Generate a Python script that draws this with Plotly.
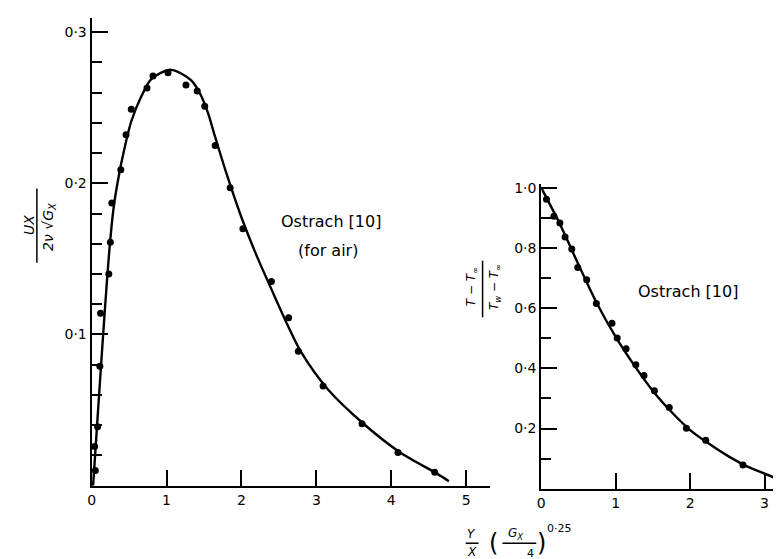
import plotly.graph_objects as go

# ---------------- data ----------------
# Left panel: velocity profile
vel_pts_x = [0.05, 0.04, 0.08, 0.11, 0.12, 0.23, 0.25, 0.27, 0.39, 0.46, 0.53, 0.74, 0.82,
             1.02, 1.26, 1.41, 1.51, 1.65, 1.85, 2.02, 2.40, 2.63, 2.76, 3.09, 3.61, 4.09, 4.58]
vel_pts_y = [0.010, 0.026, 0.039, 0.079, 0.114, 0.140, 0.161, 0.187, 0.209, 0.232, 0.249, 0.263, 0.271,
             0.273, 0.265, 0.261, 0.251, 0.225, 0.197, 0.170, 0.135, 0.111, 0.089, 0.066, 0.041, 0.022, 0.009]
vel_curve_x = [0.02, 0.06, 0.10, 0.15, 0.20, 0.25, 0.30, 0.36, 0.43, 0.53, 0.66, 0.80, 1.06, 1.33, 1.45,
               1.55, 1.65, 1.80, 2.00, 2.20, 2.40, 2.60, 2.79, 3.15, 3.63, 4.12, 4.61, 4.77]
vel_curve_y = [0.000, 0.030, 0.060, 0.097, 0.132, 0.163, 0.186, 0.204, 0.221, 0.241, 0.257, 0.269, 0.275, 0.268, 0.259,
               0.247, 0.2305, 0.2065, 0.1775, 0.1525, 0.130, 0.108, 0.089, 0.064, 0.041, 0.022, 0.008, 0.003]

# Right panel: temperature profile
tmp_pts_x = [0.07, 0.17, 0.25, 0.32, 0.41, 0.49, 0.61, 0.74, 0.95, 1.02, 1.14, 1.27, 1.38, 1.52,
             1.72, 1.95, 2.21, 2.71]
tmp_pts_y = [0.962, 0.906, 0.883, 0.837, 0.797, 0.735, 0.695, 0.616, 0.550, 0.501, 0.465, 0.412, 0.376,
             0.326, 0.270, 0.201, 0.161, 0.079]
tmp_curve_x = [0.0, 0.25, 0.5, 0.75, 1.0, 1.25, 1.5, 1.75, 2.0, 2.25, 2.5, 2.75, 3.0, 3.14]
tmp_curve_y = [1.0, 0.88, 0.745, 0.615, 0.505, 0.41, 0.325, 0.255, 0.195, 0.15, 0.11, 0.076, 0.05, 0.036]

# tick labels
left_x_ticks = [0, 1, 2, 3, 4, 5]
left_x_text = ["0", "1", "2", "3", "4", "5"]
left_y_ticks = [0.1, 0.2, 0.3]
left_y_text = ["0·1", "0·2", "0·3"]
right_x_ticks = [0, 1, 2, 3]
right_x_text = ["0", "1", "2", "3"]
right_y_ticks = [0.2, 0.4, 0.6, 0.8, 1.0]
right_y_text = ["0·2", "0·4", "0·6", "0·8", "1·0"]

# ---------------- figure ----------------
W, H = 781, 559
FONT = "DejaVu Sans"


def px(x):
    return x / W


def py(y):
    return 1 - y / H


fig = go.Figure()

fig.add_trace(go.Scatter(x=vel_curve_x, y=vel_curve_y, mode="lines",
                         line=dict(color="black", width=2.4, shape="spline", smoothing=0.8),
                         xaxis="x", yaxis="y", showlegend=False, hoverinfo="skip"))
fig.add_trace(go.Scatter(x=vel_pts_x, y=vel_pts_y, mode="markers", marker=dict(color="black", size=7),
                         xaxis="x", yaxis="y", showlegend=False))
fig.add_trace(go.Scatter(x=tmp_curve_x, y=tmp_curve_y, mode="lines",
                         line=dict(color="black", width=2.4, shape="spline", smoothing=0.8),
                         xaxis="x2", yaxis="y2", showlegend=False, hoverinfo="skip"))
fig.add_trace(go.Scatter(x=tmp_pts_x, y=tmp_pts_y, mode="markers", marker=dict(color="black", size=7),
                         xaxis="x2", yaxis="y2", showlegend=False))

axis_common = dict(showline=True, linecolor="black", linewidth=2, showgrid=False, zeroline=False,
                   ticks="inside", tickcolor="black", tickwidth=1.5, ticklen=16,
                   tickfont=dict(family=FONT, size=14, color="black"), tickmode="array")

fig.update_layout(
    width=W, height=H,
    margin=dict(l=0, r=0, t=0, b=0),
    paper_bgcolor="white", plot_bgcolor="rgba(0,0,0,0)",
    xaxis=dict(domain=[px(80), px(480)], range=[0, 5.312], anchor="y",
               tickvals=left_x_ticks, ticktext=left_x_text, **axis_common),
    yaxis=dict(domain=[py(477), py(5)], range=[0, 0.3093], anchor="x",
               tickvals=left_y_ticks, ticktext=left_y_text,
               minor=dict(tickmode="linear", tick0=0, dtick=0.02, ticks="inside", ticklen=10,
                          tickcolor="black", tickwidth=1.5),
               **axis_common),
    xaxis2=dict(domain=[px(532), px(771)], range=[0, 3.195], anchor="y2",
                tickvals=right_x_ticks, ticktext=right_x_text, **axis_common),
    yaxis2=dict(domain=[py(480), py(173)], range=[0, 1.0115], anchor="x2",
                tickvals=right_y_ticks, ticktext=right_y_text,
                minor=dict(tickmode="linear", tick0=0, dtick=0.1, ticks="inside", ticklen=10,
                           tickcolor="black", tickwidth=1.5),
                **axis_common),
)


def ann(text, x, y, size=14, angle=0, italic=False):
    t = f"<i>{text}</i>" if italic else text
    fig.add_annotation(text=t, x=px(x), y=py(y), xref="paper", yref="paper", showarrow=False,
                       textangle=angle, xanchor="center", yanchor="middle",
                       font=dict(family=FONT, size=size, color="black"))


def bar(x0, y0, x1, y1):
    fig.add_shape(type="line", xref="paper", yref="paper", x0=px(x0), y0=py(y0), x1=px(x1), y1=py(y1),
                  line=dict(color="black", width=1.5))


# Curve labels
ann("Ostrach [10]", 321, 210, size=16)
ann("(for air)", 318, 240, size=16)
ann("Ostrach [10]", 679, 281, size=16)

# Left y-axis label: UX / (2ν √G_X)
ann("UX", 17, 214, size=14, angle=-90, italic=True)
bar(25, 177, 25, 252)
ann("2ν √G<sub>X</sub>", 37, 216, size=14, angle=-90, italic=True)

# Right y-axis label: (T − T∞)/(Tw − T∞)
ann("T − T<sub>∞</sub>", 462, 276, size=12, angle=-90, italic=True)
bar(473, 250, 473, 307)
ann("T<sub>w</sub> − T<sub>∞</sub>", 485, 277, size=12, angle=-90, italic=True)

# Bottom x-axis label: Y/X (G_X/4)^0.25
ann("Y", 462, 526, size=12, italic=True)
bar(456, 535, 469, 535)
ann("X", 462, 544, size=12, italic=True)
ann("(", 484, 535, size=24)
ann("G<sub>X</sub>", 506, 526, size=12, italic=True)
bar(493, 535, 527, 535)
ann("4", 521, 545, size=11)
ann(")", 532, 535, size=24)
ann("0·25", 550, 520, size=11)

fig.write_html("out.html")
